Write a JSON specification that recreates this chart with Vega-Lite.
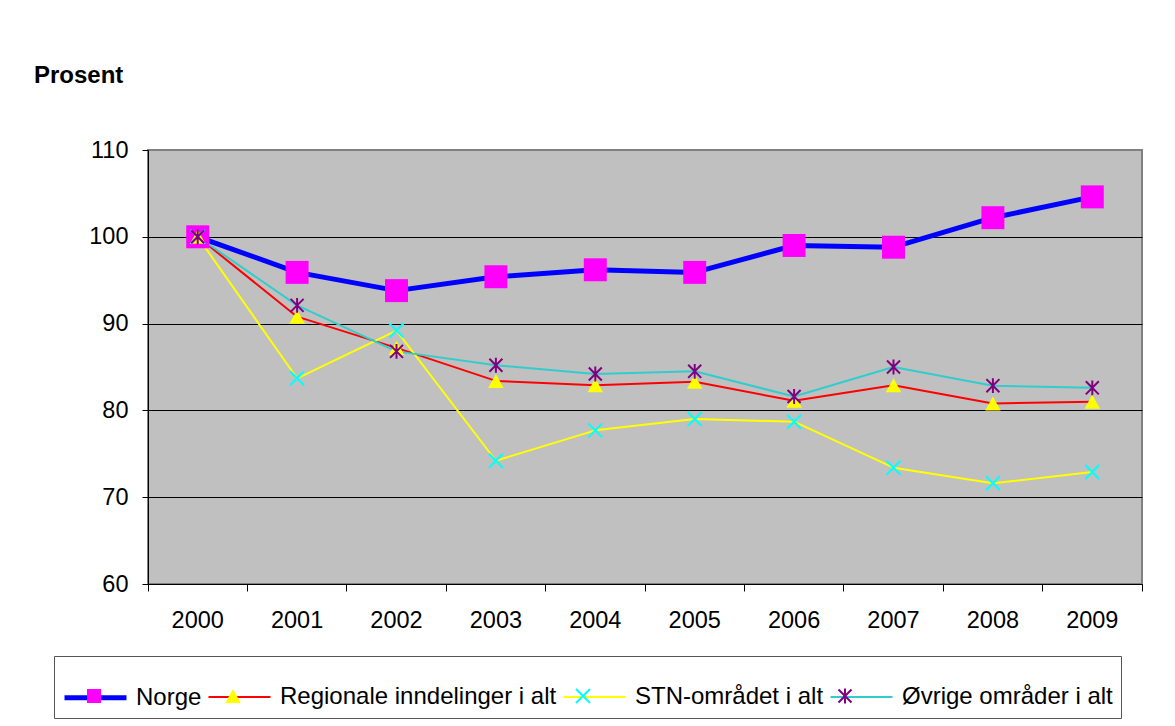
{
  "$schema": "https://vega.github.io/schema/vega-lite/v6.json",
  "width": 994,
  "height": 434,
  "autosize": {"type": "none"},
  "padding": {"left": 148, "top": 150, "right": 33, "bottom": 142},
  "background": "white",
  "config": {
    "font": "Liberation Sans",
    "view": {"fill": "#C0C0C0", "stroke": "#808080", "strokeWidth": 2},
    "axis": {
      "labelFont": "Liberation Sans",
      "labelFontSize": 23.5,
      "labelColor": "black",
      "domainColor": "black",
      "tickColor": "black",
      "domainWidth": 1,
      "tickWidth": 1
    }
  },
  "data": {
    "values": [
      {"year": "2000", "series": "Norge", "value": 100},
      {"year": "2001", "series": "Norge", "value": 95.9},
      {"year": "2002", "series": "Norge", "value": 93.8},
      {"year": "2003", "series": "Norge", "value": 95.4},
      {"year": "2004", "series": "Norge", "value": 96.2},
      {"year": "2005", "series": "Norge", "value": 95.9},
      {"year": "2006", "series": "Norge", "value": 99.0},
      {"year": "2007", "series": "Norge", "value": 98.8},
      {"year": "2008", "series": "Norge", "value": 102.2},
      {"year": "2009", "series": "Norge", "value": 104.6},
      {"year": "2000", "series": "Regionale inndelinger i alt", "value": 100},
      {"year": "2001", "series": "Regionale inndelinger i alt", "value": 90.8},
      {"year": "2002", "series": "Regionale inndelinger i alt", "value": 87.2},
      {"year": "2003", "series": "Regionale inndelinger i alt", "value": 83.4},
      {"year": "2004", "series": "Regionale inndelinger i alt", "value": 82.9},
      {"year": "2005", "series": "Regionale inndelinger i alt", "value": 83.3},
      {"year": "2006", "series": "Regionale inndelinger i alt", "value": 81.1},
      {"year": "2007", "series": "Regionale inndelinger i alt", "value": 82.9},
      {"year": "2008", "series": "Regionale inndelinger i alt", "value": 80.8},
      {"year": "2009", "series": "Regionale inndelinger i alt", "value": 81.0},
      {"year": "2000", "series": "STN-området i alt", "value": 100},
      {"year": "2001", "series": "STN-området i alt", "value": 83.7},
      {"year": "2002", "series": "STN-området i alt", "value": 89.2},
      {"year": "2003", "series": "STN-området i alt", "value": 74.2},
      {"year": "2004", "series": "STN-området i alt", "value": 77.7},
      {"year": "2005", "series": "STN-området i alt", "value": 79.0},
      {"year": "2006", "series": "STN-området i alt", "value": 78.7},
      {"year": "2007", "series": "STN-området i alt", "value": 73.4},
      {"year": "2008", "series": "STN-området i alt", "value": 71.6},
      {"year": "2009", "series": "STN-området i alt", "value": 72.9},
      {"year": "2000", "series": "Øvrige områder i alt", "value": 100},
      {"year": "2001", "series": "Øvrige områder i alt", "value": 92.1},
      {"year": "2002", "series": "Øvrige områder i alt", "value": 86.8},
      {"year": "2003", "series": "Øvrige områder i alt", "value": 85.2},
      {"year": "2004", "series": "Øvrige områder i alt", "value": 84.2},
      {"year": "2005", "series": "Øvrige områder i alt", "value": 84.5},
      {"year": "2006", "series": "Øvrige områder i alt", "value": 81.6},
      {"year": "2007", "series": "Øvrige områder i alt", "value": 85.0},
      {"year": "2008", "series": "Øvrige områder i alt", "value": 82.85},
      {"year": "2009", "series": "Øvrige områder i alt", "value": 82.6}
    ]
  },
  "layer": [
    {
      "mark": {"type": "line", "strokeJoin": "round"},
      "encoding": {
        "x": {
          "field": "year",
          "type": "ordinal",
          "scale": {"type": "band", "paddingInner": 0, "paddingOuter": 0},
          "axis": {
            "title": null,
            "grid": false,
            "labelAngle": 0,
            "bandPosition": 1,
            "tickExtra": true,
            "tickSize": 7,
            "labelBaseline": "alphabetic",
            "labelPadding": 36
          }
        },
        "y": {
          "field": "value",
          "type": "quantitative",
          "scale": {"domain": [60, 110], "nice": false, "zero": false},
          "axis": {
            "values": [60, 70, 80, 90, 100, 110],
            "grid": true,
            "gridColor": {"condition": {"test": "datum.value === 110", "value": "#808080"}, "value": "black"},
            "gridWidth": 1,
            "tickSize": 6,
            "labelPadding": 14,
            "title": "Prosent",
            "titleAngle": 0,
            "titleAlign": "left",
            "titleBaseline": "alphabetic",
            "titleX": -114.5,
            "titleY": -68,
            "titleFont": "Liberation Sans",
            "titleFontSize": 24,
            "titleFontWeight": "bold",
            "titleColor": "black"
          }
        },
        "stroke": {
          "field": "series",
          "type": "nominal",
          "scale": {
            "domain": ["Norge", "Regionale inndelinger i alt", "STN-området i alt", "Øvrige områder i alt"],
            "range": ["#0000FF", "#FF0000", "#FFFF00", "#33CCCC"]
          },
          "legend": {
            "title": null, "orient": "none", "legendX": -94, "legendY": 506,
            "direction": "horizontal", "columns": 4,
            "symbolType": "stroke", "symbolSize": 3844, "symbolOffset": 0,
            "labelOffset": 7, "columnPadding": 2,
            "labelFont": "Liberation Sans", "labelFontSize": 24, "labelColor": "black", "labelLimit": 500,
            "padding": 8, "strokeColor": "#555555", "zindex": 0
          }
        },
        "strokeWidth": {
          "field": "series",
          "type": "ordinal",
          "scale": {
            "type": "ordinal",
            "domain": ["Norge", "Regionale inndelinger i alt", "STN-området i alt", "Øvrige områder i alt"],
            "range": [5, 2, 2, 2]
          },
          "legend": {
            "title": null, "orient": "none", "legendX": -94, "legendY": 506,
            "direction": "horizontal", "columns": 4,
            "symbolType": "stroke", "symbolSize": 3844, "symbolOffset": 0,
            "labelOffset": 7, "columnPadding": 2,
            "labelFont": "Liberation Sans", "labelFontSize": 24, "labelColor": "black", "labelLimit": 500,
            "padding": 8, "strokeColor": "#555555", "zindex": 0
          }
        }
      }
    },
    {
      "mark": {"type": "point", "filled": true, "opacity": 1, "strokeWidth": 0},
      "encoding": {
        "x": {"field": "year", "type": "ordinal"},
        "y": {"field": "value", "type": "quantitative"},
        "size": {
          "field": "series",
          "type": "ordinal",
          "scale": {
            "type": "ordinal",
            "domain": ["Regionale inndelinger i alt", "STN-området i alt", "Øvrige områder i alt", "Norge"],
            "range": [3844, 3844, 3844, 10330]
          },
          "legend": null
        },
        "fill": {
          "field": "series",
          "type": "nominal",
          "scale": {"range": ["#FF00FF", "#FFFF00", "#00FFFF", "#800080"]},
          "legend": {
            "title": null, "orient": "none", "legendX": -94, "legendY": 506,
            "direction": "horizontal", "columns": 4,
            "symbolSize": 3844, "symbolOffset": 0,
            "labelOffset": 7, "columnPadding": 2,
            "labelFont": "Liberation Sans", "labelFontSize": 24, "labelColor": "black", "labelLimit": 500,
            "labelOpacity": 0,
            "padding": 8, "zindex": 1
          }
        },
        "shape": {
          "field": "series",
          "type": "nominal",
          "scale": {
            "range": [
              "M-0.226,-0.226H0.226V0.226H-0.226Z",
              "M0,-0.226L0.25,0.226L-0.25,0.226Z",
              "M-0.203,-0.249L0.249,0.203L0.203,0.249L-0.249,-0.203Z M-0.249,0.203L0.203,-0.249L0.249,-0.203L-0.203,0.249Z",
              "M-0.187,-0.233L0.233,0.187L0.187,0.233L-0.233,-0.187Z M-0.233,0.187L0.187,-0.233L0.233,-0.187L-0.187,0.233Z M-0.032,-0.24H0.032V0.24H-0.032Z"
            ]
          },
          "legend": {
            "title": null, "orient": "none", "legendX": -94, "legendY": 506,
            "direction": "horizontal", "columns": 4,
            "symbolSize": 3844, "symbolOffset": 0,
            "labelOffset": 7, "columnPadding": 2,
            "labelFont": "Liberation Sans", "labelFontSize": 24, "labelColor": "black", "labelLimit": 500,
            "labelOpacity": 0,
            "padding": 8, "zindex": 1
          }
        }
      }
    }
  ]
}
